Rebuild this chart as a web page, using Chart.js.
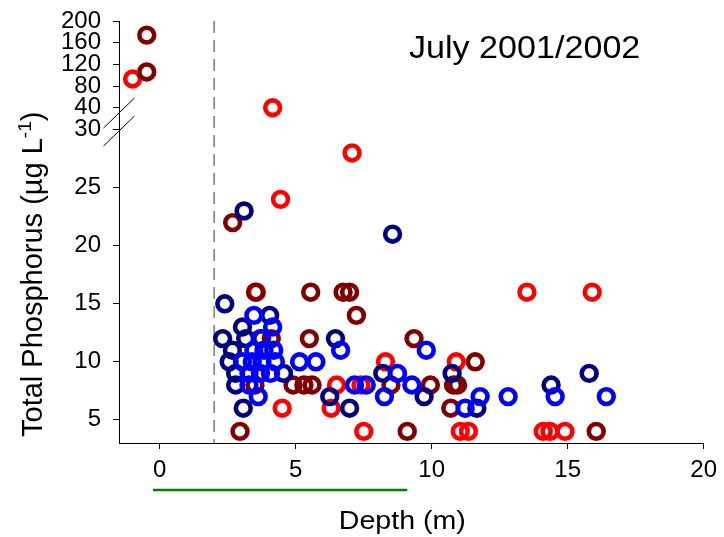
<!DOCTYPE html>
<html>
<head>
<meta charset="utf-8">
<script src="https://cdn.jsdelivr.net/npm/chart.js@4.4.1/dist/chart.umd.min.js"></script>
<style>
  html, body { margin: 0; padding: 0; background: #fff; }
  #wrap { width: 724px; height: 537px; }
</style>
</head>
<body>
<div id="wrap"><canvas id="tp-chart"></canvas></div>
<script>
// Sampling depth (m) and total phosphorus (ug/L) for each group of stations
const redDepth = [-1.0, 4.15, 7.07, 4.44, 3.55, 13.5, 15.9, 8.3, 10.9, 6.5, 7.4, 4.5, 6.3, 7.5, 11.05, 11.35, 14.1, 14.35, 14.9];
const redTP    = [93, 40, 28, 24, 16, 16, 16, 10, 10, 8, 8, 6, 6, 4, 4, 4, 4, 4, 4];

const darkRedDepth = [-0.48, -0.48, 2.68, 3.52, 5.55, 6.74, 6.98, 7.23, 3.75, 4.1, 5.5, 9.35, 11.6, 4.9, 5.3, 5.6, 3.5, 8.5, 9.95, 10.8, 10.95, 10.7, 2.95, 9.1, 16.05];
const darkRedTP    = [174, 106, 22, 16, 16, 16, 16, 14, 12, 12, 12, 12, 10, 8, 8, 8, 8, 8, 8, 8, 8, 6, 4, 4, 4];

const navyDepth = [3.1, 8.56, 2.39, 4.04, 3.04, 2.31, 3.16, 6.46, 2.67, 2.55, 2.79, 4.55, 8.2, 10.75, 15.79, 2.79, 14.39, 6.25, 9.72, 3.07, 6.98, 11.66];
const navyTP    = [23, 21, 15, 14, 13, 12, 12, 12, 11, 10, 9, 9, 9, 9, 9, 8, 8, 7, 7, 6, 6, 6];

const blueDepth = [3.46, 4.15, 3.7, 3.46, 3.83, 4.19, 6.65, 9.8, 3.04, 3.4, 3.76, 4.25, 5.14, 5.74, 3.28, 3.7, 4.07, 8.74, 3.28, 7.16, 7.59, 9.27, 3.62, 8.26, 11.78, 12.81, 14.54, 16.42, 11.23];
const blueTP    = [14, 13, 12, 11, 11, 11, 11, 11, 10, 10, 10, 10, 10, 10, 9, 9, 9, 9, 8, 8, 8, 8, 7, 7, 7, 7, 7, 7, 6];

const depthTicks = [0, 5, 10, 15, 20];
const lowTicks = [5, 10, 15, 20, 25, 30];
const highTicks = [40, 80, 120, 160, 200];

// axis break: values above this go on the compressed upper segment
const breakValue = 30.67;
const refDepth = 2;
const greenRange = [-0.25, 9.1];
const titleText = "July 2001/2002";

const family = "'Liberation Sans', Arial, Helvetica, sans-serif";

function toPoints(depths, values, upper) {
  const pts = [];
  depths.forEach((d, i) => {
    const isHigh = values[i] > breakValue;
    if (isHigh === upper) pts.push({ x: d, y: values[i] });
  });
  return pts;
}

function makeSets(depths, values, color) {
  return [false, true].map(upper => ({
    data: toPoints(depths, values, upper),
    yAxisID: upper ? "yHigh" : "y",
    borderColor: color,
    backgroundColor: "rgba(0,0,0,0)",
    pointRadius: 7.4,
    pointBorderWidth: 4.6,
    pointHoverRadius: 7.4,
    showLine: false,
    clip: false,
  }));
}

// first dataset ends up drawn on top
const datasets = [
  ...makeSets(blueDepth, blueTP, "#0000ff"),
  ...makeSets(navyDepth, navyTP, "#000080"),
  ...makeSets(darkRedDepth, darkRedTP, "#800000"),
  ...makeSets(redDepth, redTP, "#ff0000"),
];

const tickFont = { family: family, size: 24 };

function fixedTicks(list) {
  return scale => { scale.ticks = list.map(v => ({ value: v })); };
}

// y axes: fixed width, and no extra room reserved for the end labels
function fitY(scale) {
  scale.width = 119;
  scale.paddingTop = 0;
  scale.paddingBottom = 0;
}

const extras = {
  id: "extras",
  beforeDatasetsDraw(chart) {
    const { ctx, chartArea, scales } = chart;
    const x = scales.x.getPixelForValue(refDepth);
    ctx.save();
    ctx.strokeStyle = "#7a7a7a";
    ctx.lineWidth = 1.5;
    ctx.setLineDash([12, 7]);
    ctx.beginPath();
    ctx.moveTo(x, chartArea.top);
    ctx.lineTo(x, chartArea.bottom);
    ctx.stroke();
    ctx.restore();
  },
  afterDraw(chart) {
    const { ctx, chartArea, scales } = chart;
    ctx.save();
    ctx.fillStyle = "#000";

    // break marks on the y axis, at the join of the two segments
    const bx = scales.y.left + scales.y.width;
    const by = scales.y.top;
    ctx.strokeStyle = "#000";
    ctx.lineWidth = 1;
    [-9, 9].forEach(off => {
      ctx.beginPath();
      ctx.moveTo(bx - 15.5, by + off + 15);
      ctx.lineTo(bx + 15.5, by + off - 15);
      ctx.stroke();
    });

    // green bar under the depth labels
    ctx.strokeStyle = "#008000";
    ctx.lineWidth = 2.5;
    ctx.beginPath();
    ctx.moveTo(scales.x.getPixelForValue(greenRange[0]), chartArea.bottom + 47);
    ctx.lineTo(scales.x.getPixelForValue(greenRange[1]), chartArea.bottom + 47);
    ctx.stroke();

    // title inside the plot
    ctx.save();
    ctx.translate(chartArea.left + 290, chartArea.top + 37);
    ctx.scale(1.1, 1);
    ctx.font = "31px " + family;
    ctx.textAlign = "left";
    ctx.textBaseline = "alphabetic";
    ctx.fillText(titleText, 0, 0);
    ctx.restore();

    // x axis title
    ctx.save();
    ctx.translate((chartArea.left + chartArea.right) / 2 - 9, chartArea.bottom + 86);
    ctx.scale(1.1, 1);
    ctx.font = "26px " + family;
    ctx.textAlign = "center";
    ctx.fillText("Depth (m)", 0, 0);
    ctx.restore();

    // y axis title with superscript
    ctx.save();
    ctx.translate(42, chartArea.bottom - 6);
    ctx.rotate(-Math.PI / 2);
    ctx.textAlign = "left";
    ctx.textBaseline = "alphabetic";
    const main = "Total Phosphorus (\u00b5g L";
    ctx.font = "29px " + family;
    ctx.fillText(main, 0, 0);
    let w = ctx.measureText(main).width;
    ctx.font = "19px " + family;
    ctx.fillText("-1", w, -11);
    w += ctx.measureText("-1").width;
    ctx.font = "29px " + family;
    ctx.fillText(")", w, 0);
    ctx.restore();

    ctx.restore();
  },
};

const axisBase = {
  type: "linear",
  border: { color: "#000", width: 1 },
  grid: { drawOnChartArea: false, drawTicks: true, tickLength: 6, color: "#000" },
};

new Chart(document.getElementById("tp-chart").getContext("2d"), {
  type: "scatter",
  data: { datasets },
  options: {
    responsive: true,
    maintainAspectRatio: false,
    animation: false,
    layout: { padding: { top: 21, right: 15, left: 0, bottom: 0 } },
    plugins: { legend: { display: false }, tooltip: { enabled: false } },
    scales: {
      y: {
        ...axisBase,
        position: "left",
        stack: "tp",
        stackWeight: 321,
        min: 3,
        max: breakValue,
        afterBuildTicks: fixedTicks(lowTicks),
        afterFit: fitY,
        ticks: { font: tickFont, color: "#000", padding: 12, autoSkip: false },
      },
      yHigh: {
        ...axisBase,
        position: "left",
        stack: "tp",
        stackWeight: 101,
        min: 13.7,
        max: 200,
        afterBuildTicks: fixedTicks(highTicks),
        afterFit: fitY,
        ticks: { font: tickFont, color: "#000", padding: 12, autoSkip: false },
      },
      x: {
        ...axisBase,
        min: -1.5,
        max: 20,
        afterBuildTicks: fixedTicks(depthTicks),
        afterFit: s => { s.height = 94; },
        ticks: { font: tickFont, color: "#000", padding: 7 },
      },
    },
  },
  plugins: [extras],
});
</script>
</body>
</html>
